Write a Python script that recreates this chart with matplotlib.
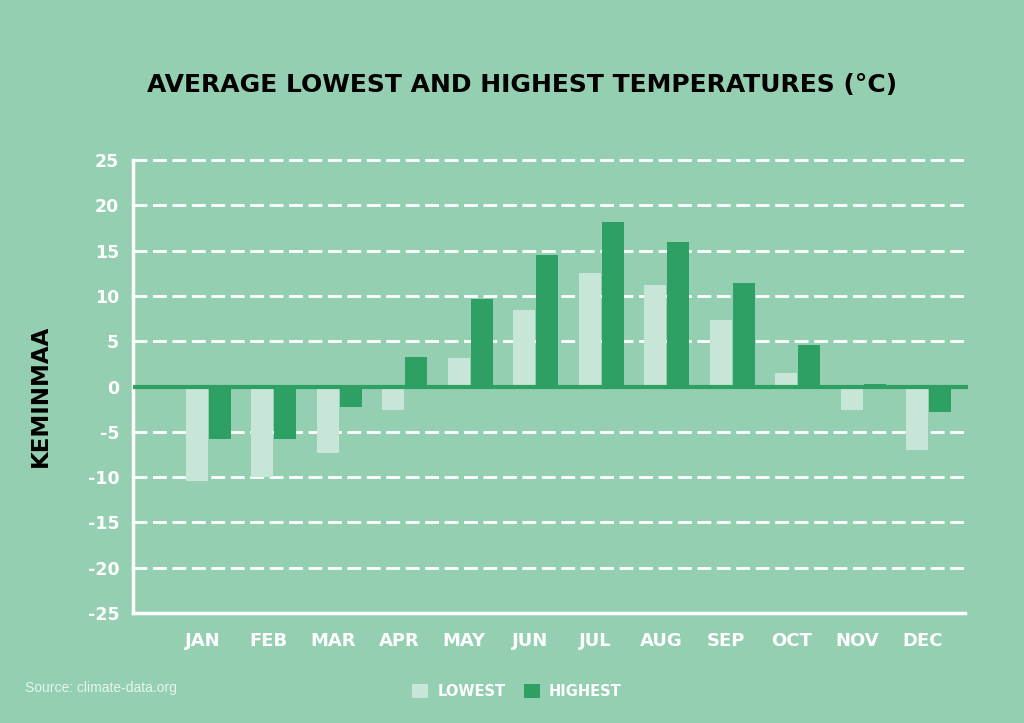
"""
Average lowest and highest monthly temperatures for Keminmaa, grouped bar chart.
"""

import matplotlib.pyplot as plt
import numpy as np

# Data

months = ['JAN', 'FEB', 'MAR', 'APR', 'MAY', 'JUN',
          'JUL', 'AUG', 'SEP', 'OCT', 'NOV', 'DEC']
lowest = [-10.4, -10.0, -7.3, -2.6, 3.1, 8.4, 12.5, 11.2, 7.3, 1.5, -2.6, -7.0]
highest = [-5.8, -5.8, -2.3, 3.3, 9.7, 14.5, 18.2, 16.0, 11.4, 4.6, 0.3, -2.8]
yticks = [25, 20, 15, 10, 5, 0, -5, -10, -15, -20, -25]

BG = '#93CFB0'
LOW_COLOR = '#C8E6D7'
HIGH_COLOR = '#2EA064'


def main():
    plt.rcParams['font.family'] = ['DejaVu Sans']

    fig = plt.figure(figsize=(10.24, 7.23), dpi=100, facecolor=BG)
    ax = fig.add_axes([0.1299, 0.1521, 0.8155, 0.6266])
    ax.set_facecolor(BG)

    x = np.arange(len(months))
    width = 0.335

    ax.bar(x - width / 2 - 0.01, lowest, width, color=LOW_COLOR, zorder=2, label='LOWEST')
    ax.bar(x + width / 2 + 0.01, highest, width, color=HIGH_COLOR, zorder=2, label='HIGHEST')
    ax.axhline(0, color=HIGH_COLOR, linewidth=3, zorder=3)

    # Axes formatting

    ax.set_xlim(-1.15, 11.6)
    ax.set_ylim(-25, 25)
    ax.set_yticks(yticks)
    ax.set_yticklabels([str(t) for t in yticks])
    ax.set_xticks(x - 0.09)
    ax.set_xticklabels(months)
    ax.tick_params(axis='y', length=0, colors='white', labelsize=12.5, pad=10)
    ax.tick_params(axis='x', length=0, colors='white', labelsize=13, pad=14)
    for lbl in ax.get_xticklabels() + ax.get_yticklabels():
        lbl.set_fontweight('bold')

    dash = (0, (5, 2))
    for y in yticks[1:-1]:
        if y != 0:
            ax.axhline(y, color='white', linewidth=2, linestyle=dash, zorder=1)
    ax.axhline(25, color='white', linewidth=2, linestyle=dash, zorder=1, clip_on=False)

    for side in ['top', 'right']:
        ax.spines[side].set_visible(False)
    for side in ['left', 'bottom']:
        ax.spines[side].set_color('white')
        ax.spines[side].set_linewidth(2.5)
    ax.spines['bottom'].set_bounds(-1.15, 11.55)

    ax.set_ylabel('KEMINMAA', fontsize=16.5, fontweight='bold', color='black')
    ax.yaxis.set_label_coords(-0.097, 0.48)

    fig.text(0.51, 0.882, 'AVERAGE LOWEST AND HIGHEST TEMPERATURES (°C)',
             ha='center', va='center', fontsize=18, fontweight='bold', color='black')
    fig.text(0.024, 0.048, 'Source: climate-data.org', fontsize=10, color='#E8F5EE',
             family=['Liberation Sans', 'DejaVu Sans'], va='center')

    leg = fig.legend(loc='center', bbox_to_anchor=(0.505, 0.044), ncol=2, frameon=False,
                     fontsize=10.5, handlelength=1.1, handleheight=1.1, handletextpad=0.6,
                     columnspacing=1.3)
    for txt in leg.get_texts():
        txt.set_color('white')
        txt.set_fontweight('bold')

    fig.savefig('out.png', dpi=100, facecolor=BG)


if __name__ == "__main__":
    main()
